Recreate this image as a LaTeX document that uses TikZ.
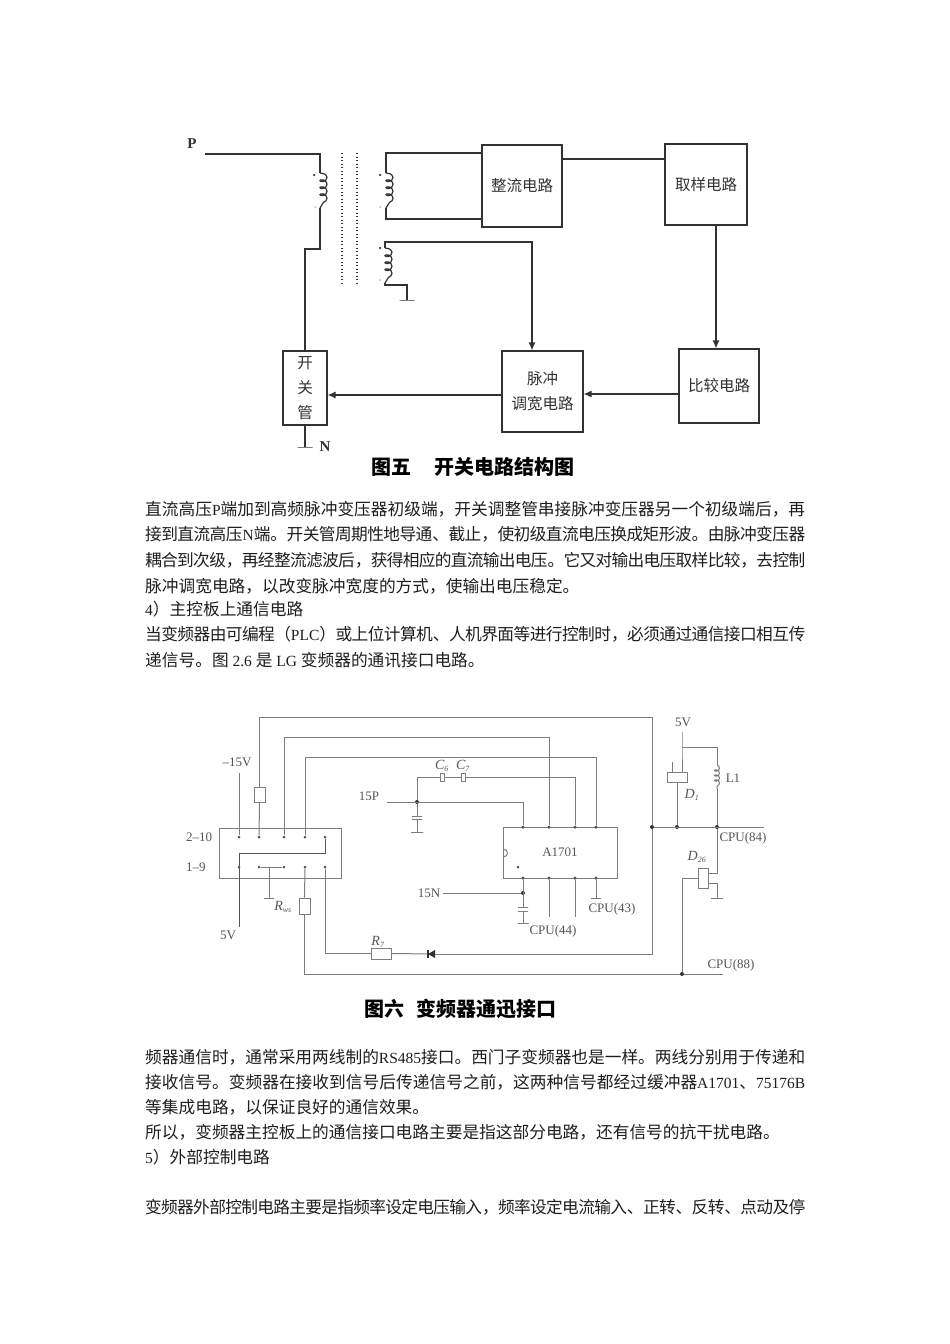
\documentclass[tikz,border=0pt]{standalone}
\usepackage{fontspec}
\usetikzlibrary{arrows.meta, decorations.pathmorphing}
\setmainfont{Liberation Serif}
\newfontfamily\cjk{Noto Sans CJK SC}
\XeTeXlinebreaklocale "zh"
\XeTeXlinebreakskip=0pt plus 3pt minus 1pt
\definecolor{tBody}{RGB}{30, 30, 30}
\definecolor{tDark}{RGB}{50, 50, 50}
\definecolor{tGray}{RGB}{85, 85, 85}
\definecolor{lGray}{RGB}{125, 125, 125}
\newcommand{\lat}[1]{{\rmfamily\fontsize{15.5}{20}\selectfont #1}}
\newcommand{\fullline}[1]{\parfillskip=0pt\relax #1\par}

\begin{document}
\begin{tikzpicture}[
    x=1pt, y=-1pt,
    >={Latex[length=8pt, width=7pt]},
    line/.style={line width=1.2pt, color=tDark},
    arrow/.style={->, line width=1.2pt, color=tDark},
    block/.style={
        draw=tDark,
        line width=1.2pt,
        inner sep=0pt,
        align=center,
        text=tDark,
        font=\cjk\fontsize{15.5}{25}\selectfont
    },
    coil/.style={decorate, decoration={coil, aspect=0.7, segment length=7pt, amplitude=3.5pt, raise=3.5pt}},
    core/.style={line width=1.3pt, color=tDark, dash pattern=on 1.3pt off 2.2pt},
    wire/.style={line width=1pt, color=lGray},
    comp/.style={draw=lGray, line width=1pt, fill=white, inner sep=0pt},
    bar/.style={draw=lGray, line width=1pt, inner sep=0pt, minimum height=0pt, minimum width=#1},
    bar/.default=12pt,
    dot/.style={circle, fill=#1, inner sep=0pt, minimum size=4pt},
    dot/.default=tDark,
    tag/.style={inner sep=0pt, text=tGray, font=\fontsize{13}{15}\selectfont},
    itag/.style={tag, font=\itshape\fontsize{14}{16}\selectfont},
    caption/.style={inner sep=0pt, text=black, font=\cjk\bfseries\fontsize{20}{24}\selectfont},
    para/.style={anchor=west, inner sep=0pt, text=tBody, font=\cjk\fontsize{16.7}{20}\selectfont},
    fullpara/.style={para, text width=660pt, align=justify}
]
\useasboundingbox (0,0) rectangle (950,1344);

% Figure 5: switching circuit
\node[inner sep=0pt, text=tDark, font=\bfseries\fontsize{15}{17}\selectfont] (labP) at (192,144) {P};
\node[inner sep=0pt, text=tDark, font=\bfseries\fontsize{15}{17}\selectfont] (labN) at (325,447) {N};

\node[block, minimum width=44pt, minimum height=74pt] (switch) at (305,388) {开\\关\\管};
\node[block, minimum width=80pt, minimum height=82pt] (rectifier) at (522,186) {整流电路};
\node[block, minimum width=82pt, minimum height=81pt] (sampler) at (706,184.5) {取样电路};
\node[block, minimum width=80pt, minimum height=74pt] (compare) at (719,386) {比较电路};
\node[block, minimum width=81pt, minimum height=81pt] (pwm) at (542.5,391.5) {脉冲\\调宽电路};

\coordinate (inP) at (205,154);
\coordinate (pTop) at (320,154);
\coordinate (pCoilA) at (320,173);
\coordinate (pCoilB) at (320,208);
\coordinate (pLow) at (320,249);
\coordinate (s1Top) at (386,153);
\coordinate (s1CoilA) at (386,173);
\coordinate (s1CoilB) at (386,208);
\coordinate (s1Low) at (386,219);
\coordinate (s2Top) at (385,242);
\coordinate (s2CoilA) at (385,248);
\coordinate (s2CoilB) at (385,283);
\coordinate (s2Low) at (385,285);
\coordinate (s2Gnd) at (407,285);
\node[bar=15pt, draw=tDark] (gndA) at (407,300) {};
\node[bar=15pt, draw=tDark] (gndN) at (305,447) {};

\draw[line] (inP) -- (pTop) -- (pCoilA);
\draw[line, coil] (pCoilA) -- (pCoilB);
\draw[line] (pCoilB) -- (pLow) -- (pLow -| switch.north) -- (switch.north);
\draw[line] (switch.south) -- (gndN);

\draw[line] (rectifier.west |- s1Top) -- (s1Top) -- (s1CoilA);
\draw[line, coil] (s1CoilA) -- (s1CoilB);
\draw[line] (s1CoilB) -- (s1Low) -- (rectifier.west |- s1Low);

\draw[line, coil] (s2CoilA) -- (s2CoilB);
\draw[line] (s2CoilB) -- (s2Low) -- (s2Gnd) -- (gndA);
\draw[arrow] (s2CoilA) -- (s2Top) -| (pwm.north -| 532,0);

% transformer core
\coordinate (coreA) at (342,153);
\coordinate (coreB) at (342,283);
\coordinate (coreC) at (357,153);
\coordinate (coreD) at (357,283);
\draw[core] (coreA) -- (coreB);
\draw[core] (coreC) -- (coreD);

% winding marks
\foreach \nx/\ny in {314/175, 380/175, 380/248} {
    \node[dot, minimum size=2.5pt] at (\nx,\ny) {};
}
\foreach \nx/\ny in {315/207, 380/207, 380/280} {
    \node[dot=tDark!60, minimum size=1.5pt] at (\nx,\ny) {};
}

\draw[line] (rectifier.east |- 0,159) -- (sampler.west |- 0,159);
\draw[arrow] (sampler.south -| 716,0) -- (compare.north -| 716,0);
\draw[arrow] (compare.west |- 0,394) -- (pwm.east |- 0,394);
\draw[arrow] (pwm.west |- 0,395) -- (switch.east |- 0,395);

\node[caption, anchor=west] (capA) at (371,467) {图五\hspace{23pt}开关电路结构图};

% Text block one
\node[fullpara] (lineA) at (145,509) {\fullline{直流高压\lat{P}端加到高频脉冲变压器初级端，开关调整管串接脉冲变压器另一个初级端后，再}};
\node[fullpara] (lineB) at (145,534) {\fullline{接到直流高压\lat{N}端。开关管周期性地导通、截止，使初级直流电压换成矩形波。由脉冲变压器}};
\node[fullpara] (lineC) at (145,560) {\fullline{耦合到次级，再经整流滤波后，获得相应的直流输出电压。它又对输出电压取样比较，去控制}};
\node[para] (lineD) at (145,586) {脉冲调宽电路，以改变脉冲宽度的方式，使输出电压稳定。};
\node[para] (lineE) at (145,609) {\lat{4}）主控板上通信电路};
\node[fullpara] (lineF) at (145,634) {\fullline{当变频器由可编程（\lat{PLC}）或上位计算机、人机界面等进行控制时，必须通过通信接口相互传}};
\node[para] (lineG) at (145,660) {递信号。图\lat{ 2.6 }是\lat{ LG }变频器的通讯接口电路。};

% Figure 6: connector block
\node[comp, fill=none, minimum width=122pt, minimum height=50pt] (plug) at (280,853) {};
\node[tag, anchor=west] (lab210) at (186,837) {2--10};
\node[tag, anchor=west] (lab19) at (186,867) {1--9};
\foreach \px/\pn in {239/a, 259/b, 284/c, 305/d, 325/e} {
    \node[dot=tGray, minimum size=3pt] (top\pn) at (\px,837) {};
    \node[dot=tGray, minimum size=3pt] (bot\pn) at (\px,867) {};
}

% A1701
\node[comp, fill=none, minimum width=114pt, minimum height=51pt, text=tGray, font=\fontsize{13}{15}\selectfont] (chip) at (560,852.5) {A1701};
\draw[wire] (503,849) .. controls (509,849) and (509,857) .. (503,857);
\node[dot=tGray, minimum size=3pt] (chipMark) at (518,867) {};
\foreach \px/\pn in {523/a, 549/b, 575/c, 596/d} {
    \node[dot=tGray, minimum size=3.5pt] (chipT\pn) at (\px,827) {};
    \node[dot=tGray, minimum size=3.5pt] (chipB\pn) at (\px,878) {};
}

% top loop
\coordinate (busR) at (652,717);
\node[dot] (j84) at (652,827) {};
\node[comp, minimum width=11pt, minimum height=15pt] (resA) at (259.5,794.5) {};
\node[comp, minimum width=11pt, minimum height=16pt] (resWs) at (304.5,906) {};
\node[comp, minimum width=20pt, minimum height=11pt] (resR7) at (381,953.5) {};
\coordinate (diodeC) at (432,954);
\draw[wire] (topb) -- (resA.south);
\draw[wire] (resA.north) |- (busR) -- (j84);
\draw[wire] (j84) |- (diodeC);
\draw[wire] (diodeC) -- (resR7.east);
\draw[wire] (resR7.west) -| (bote);
\fill[tDark] ([xshift=-4pt]diodeC) -- ([xshift=3pt, yshift=-4pt]diodeC) -- ([xshift=3pt, yshift=4pt]diodeC) -- cycle;
\draw[line] ([xshift=-4pt, yshift=-4pt]diodeC) -- ([xshift=-4pt, yshift=4pt]diodeC);

\coordinate (busB) at (549,737);
\coordinate (busC) at (596,757);
\draw[wire] (topc) |- (busB) -- (chipTb);
\draw[wire] (topd) |- (busC) -- (chipTd);

% supply pins
\coordinate (minus15) at (239,773);
\coordinate (in5V) at (239,927);
\coordinate (crossA) at (325,853);
\draw[wire] (minus15) -- (topa);
\draw[wire, color=tGray] (tope) -- (crossA) -| (in5V);
\draw[wire] (botb) -- (botc);
\coordinate (botMid) at (269,867);
\node[bar=10pt] (gndWs) at (269,898) {};
\draw[wire] (botMid) -- (gndWs);
\coordinate (busW) at (723,974);
\draw[wire] (botd) -- (resWs.north);
\draw[wire] (resWs.south) |- (busW);

\node[tag] (labM15) at (237,762) {--15V};
\node[tag] (lab5Va) at (228,935) {5V};
\node[itag] (labRws) at (283,907) {R\textsubscript{\fontsize{8}{9}\selectfont ws}};
\node[itag] (labR7) at (378,942) {R\textsubscript{\fontsize{8}{9}\selectfont 7}};

% 15P
\node[tag] (lab15P) at (369,796) {15P};
\coordinate (in15P) at (387,802);
\node[dot] (j15P) at (417,802) {};
\coordinate (elbowTop) at (417,777);
\coordinate (elbowR) at (575,777);
\coordinate (elbowP) at (523,802);
\node[comp, minimum width=4pt, minimum height=8pt] (capC6) at (442,777) {};
\node[comp, minimum width=4pt, minimum height=8pt] (capC7) at (463,777) {};
\draw[wire] (in15P) -- (elbowP) -- (chipTa);
\draw[wire] (j15P) -- (elbowTop) -- (capC6.west);
\draw[wire] (capC6.east) -- (capC7.west);
\draw[wire] (capC7.east) -- (elbowR) -- (chipTc);
\node[bar=10pt] (capPa) at (417,816) {};
\node[bar=10pt] (capPb) at (417,819) {};
\node[bar=12pt] (gndP) at (417,832) {};
\draw[wire] (j15P) -- (capPa);
\draw[wire] (capPb) -- (gndP);
\node[itag] (labC6) at (442,766) {C\textsubscript{\fontsize{8}{9}\selectfont 6}};
\node[itag] (labC7) at (463,766) {C\textsubscript{\fontsize{8}{9}\selectfont 7}};

% 15N and lower pins
\node[tag] (lab15N) at (429,893) {15N};
\coordinate (in15N) at (443,893);
\node[dot] (j15N) at (523,893) {};
\node[bar=10pt] (capNa) at (523,907) {};
\node[bar=10pt] (capNb) at (523,911) {};
\node[bar=11pt] (gndN15) at (523,923) {};
\draw[wire] (in15N) -- (j15N);
\draw[wire] (chipBa) -- (capNa);
\draw[wire] (capNb) -- (gndN15);
\coordinate (out44) at (549,917);
\coordinate (outC) at (575,917);
\node[bar=10pt] (gnd43) at (596,898) {};
\draw[wire] (chipBb) -- (out44);
\draw[wire] (chipBc) -- (outC);
\draw[wire] (chipBd) -- (gnd43);
\node[tag] (labC44) at (553,931) {CPU(44)};
\node[tag] (labC43) at (612,909) {CPU(43)};

% right side
\coordinate (out84) at (764,827);
\node[dot] (jD1) at (677,827) {};
\node[dot] (jL1) at (717,827) {};
\draw[wire] (j84) -- (out84);
\coordinate (in5Vb) at (682,732);
\coordinate (split) at (682,747);
\coordinate (splitR) at (717,747);
\coordinate (coilA) at (717,765);
\coordinate (coilB) at (717,789);
\node[comp, minimum width=20pt, minimum height=10pt] (relD1) at (677,777) {};
\coordinate (relTick) at (672,762);
\draw[wire] (relTick) -- (relTick |- relD1.north);
\draw[wire] (in5Vb) -- (split) -- (split |- relD1.north);
\draw[wire] (split) -- (splitR) -- (coilA);
\draw[wire, decorate, decoration={coil, aspect=0.7, segment length=5pt, amplitude=2.5pt}] (coilA) -- (coilB);
\draw[wire] (coilB) -- (jL1);
\draw[wire] (relD1.south) -- (jD1);

\node[comp, minimum width=10pt, minimum height=20pt] (relD26) at (703,878) {};
\coordinate (kneeL) at (717,873);
\coordinate (kneeG) at (717,883);
\node[bar=12pt] (gnd26) at (717,898) {};
\draw[wire] (jL1) -- (kneeL) -- (kneeL -| relD26.east);
\draw[wire] (kneeG -| relD26.east) -- (kneeG) -- (gnd26);
\node[dot] (j88) at (682,974) {};
\draw[wire] (j88) |- (relD26.west);

\node[tag] (lab5Vb) at (683,722) {5V};
\node[itag] (labD1) at (692,795) {D\textsubscript{\fontsize{8}{9}\selectfont 1}};
\node[tag] (labL1) at (733,778) {L1};
\node[tag] (labC84) at (743,838) {CPU(84)};
\node[itag] (labD26) at (697,857) {D\textsubscript{\fontsize{8}{9}\selectfont 26}};
\node[tag] (labC88) at (731,965) {CPU(88)};

\node[caption, anchor=west] (capB) at (364,1009) {图六\hspace{12pt}变频器通迅接口};

% Text block two
\node[fullpara] (lineH) at (145,1057) {\fullline{频器通信时，通常采用两线制的\lat{RS485}接口。西门子变频器也是一样。两线分别用于传递和}};
\node[fullpara] (lineI) at (145,1082) {\fullline{接收信号。变频器在接收到信号后传递信号之前，这两种信号都经过缓冲器\lat{A1701}、\lat{75176B}}};
\node[para] (lineJ) at (145,1107) {等集成电路，以保证良好的通信效果。};
\node[para] (lineK) at (145,1132) {所以，变频器主控板上的通信接口电路主要是指这部分电路，还有信号的抗干扰电路。};
\node[para] (lineL) at (145,1157) {\lat{5}）外部控制电路};
\node[fullpara] (lineM) at (145,1207) {\fullline{变频器外部控制电路主要是指频率设定电压输入，频率设定电流输入、正转、反转、点动及停}};

\end{tikzpicture}
\end{document}
